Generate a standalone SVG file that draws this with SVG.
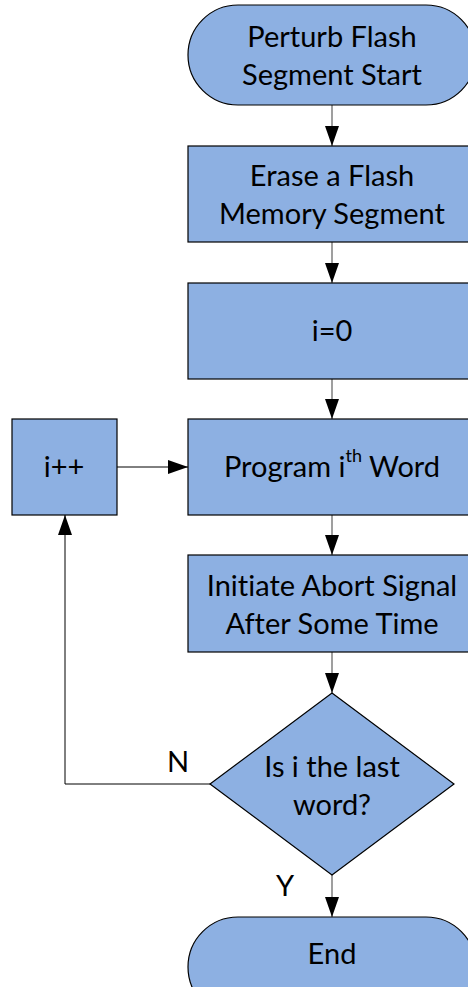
<svg xmlns="http://www.w3.org/2000/svg" width="468" height="987" viewBox="0 0 468 987">
  <style>
    .shape { fill: #8db0e2; stroke: #000; stroke-width: 1.2; }
    .label { font-family: Lato, "Open Sans", "Liberation Sans", sans-serif; font-size: 29px; fill: #000; text-anchor: middle; dominant-baseline: central; font-variant-ligatures: none; }
    .flow { fill: none; stroke: #7f7f7f; stroke-width: 1.5; }
    .loop { fill: none; stroke: #000; stroke-width: 1; }
  </style>
  <defs>
    <marker id="arrowK" viewBox="0 0 20 14" refX="20" refY="7" markerWidth="20" markerHeight="14" markerUnits="userSpaceOnUse" orient="auto">
      <path d="M0,0 L20,7 L0,14 Z" fill="#000"/>
    </marker>
  </defs>

  <g id="connectors">
    <line class="flow" x1="332" y1="105" x2="332" y2="146" marker-end="url(#arrowK)"/>
    <line class="flow" x1="332" y1="242" x2="332" y2="283" marker-end="url(#arrowK)"/>
    <line class="flow" x1="332" y1="379" x2="332" y2="419" marker-end="url(#arrowK)"/>
    <line class="flow" x1="332" y1="515" x2="332" y2="555" marker-end="url(#arrowK)"/>
    <line class="flow" x1="332" y1="652" x2="332" y2="693" marker-end="url(#arrowK)"/>
    <line class="flow" x1="332" y1="875" x2="332" y2="917" marker-end="url(#arrowK)"/>
    <polyline class="loop" points="210,784 65,784 65,515" marker-end="url(#arrowK)"/>
    <line class="loop" x1="117" y1="467" x2="188" y2="467" marker-end="url(#arrowK)"/>
    <text class="label" x="178" y="760" font-size="26px">N</text>
    <text class="label" x="285" y="884" font-size="26px">Y</text>
  </g>

  <g id="start">
    <rect class="shape" x="188" y="5" width="288" height="100" rx="50" ry="50"/>
    <text class="label" x="332" y="35">Perturb Flash</text>
    <text class="label" x="332" y="73">Segment Start</text>
  </g>

  <g id="erase">
    <rect class="shape" x="188" y="146" width="288" height="96"/>
    <text class="label" x="332" y="174">Erase a Flash</text>
    <text class="label" x="332" y="212">Memory Segment</text>
  </g>

  <g id="init">
    <rect class="shape" x="188" y="283" width="288" height="96"/>
    <text class="label" x="332" y="329">i=0</text>
  </g>

  <g id="program">
    <rect class="shape" x="188" y="419" width="288" height="96"/>
    <text class="label" x="332" y="465">Program i<tspan font-size="18px" dy="-10">th</tspan><tspan dy="10"> Word</tspan></text>
  </g>

  <g id="increment">
    <rect class="shape" x="12" y="419" width="105" height="96"/>
    <text class="label" x="64" y="465">i++</text>
  </g>

  <g id="abort">
    <rect class="shape" x="188" y="555" width="288" height="97"/>
    <text class="label" x="332" y="584">Initiate Abort Signal</text>
    <text class="label" x="332" y="622">After Some Time</text>
  </g>

  <g id="decision">
    <polygon class="shape" points="332,693 454,784 332,875 210,784"/>
    <text class="label" x="332" y="765">Is i the last</text>
    <text class="label" x="332" y="803">word?</text>
  </g>

  <g id="end">
    <rect class="shape" x="188" y="917" width="288" height="100" rx="50" ry="50"/>
    <text class="label" x="332" y="952">End</text>
  </g>
</svg>
